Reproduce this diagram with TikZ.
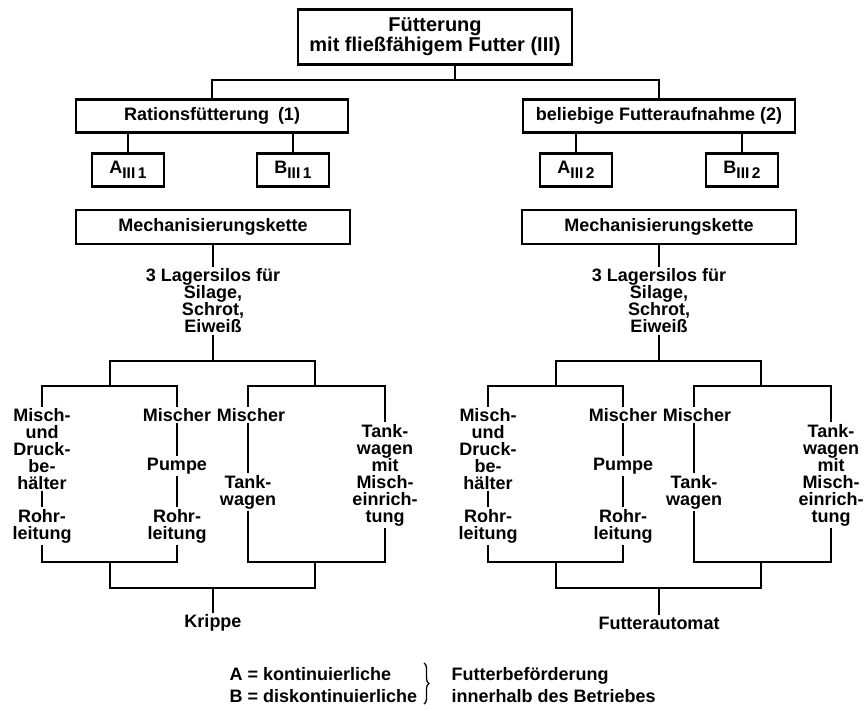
\documentclass[tikz,border=0pt]{standalone}
\usepackage{fontspec}
\setmainfont{Liberation Sans}
\usetikzlibrary{positioning,calc,decorations.pathreplacing}
\newcommand\idx[1]{\raisebox{-0.5ex}{\fontsize{15.5}{15.5}\selectfont #1}}

\begin{document}
\begin{tikzpicture}[
		x=1pt, y=-1pt,
		font=\fontsize{18}{17}\selectfont\bfseries,
		every node/.style={align=center, inner sep=1.5pt},
		box/.style={rectangle, draw, line width=2.5pt, inner sep=2pt},
		bigbox/.style={box, minimum width=272pt, minimum height=33pt},
		subbox/.style={box, minimum width=72pt, minimum height=33pt},
		ln/.style={line width=2.5pt},
		]
		\useasboundingbox (0,0) rectangle (865,710);

		% Kopf
		\node[box, minimum width=274pt, minimum height=55pt,
			font=\fontsize{20}{18}\selectfont\bfseries] (top) at (435,37)
		{Fütterung\\mit fließfähigem Futter (III)};
		\coordinate (j0) at (455,80);
		\node[bigbox] (rat) at (212,116) {Rationsfütterung\enspace(1)};
		\node[bigbox] (bel) at (659,116) {beliebige Futteraufnahme (2)};
		\draw[ln] (j0 |- top.south) -- (j0);
		\draw[ln] (rat.north) |- (j0) -| (bel.north);

		\node[subbox] (a1) at (128,170) {A\idx{III\,1}};
		\node[subbox] (b1) at (293,170) {B\idx{III\,1}};
		\node[subbox] (a2) at (576,170) {A\idx{III\,2}};
		\node[subbox] (b2) at (742,170) {B\idx{III\,2}};
		\draw[ln] (a1.north) -- (a1.north |- rat.south);
		\draw[ln] (b1.north) -- (b1.north |- rat.south);
		\draw[ln] (a2.north) -- (a2.north |- bel.south);
		\draw[ln] (b2.north) -- (b2.north |- bel.south);

		% Mechanisierungsketten
		\foreach \s/\dx/\ende in {L/0/Krippe, R/446/Futterautomat}{
			\begin{scope}[xshift=\dx pt]
				\node[box, minimum width=274pt, minimum height=34pt] (mech\s) at (213,227)
				{Mechanisierungskette};
				\node (lag\s) at (213,301) {3 Lagersilos für\\Silage,\\Schrot,\\Eiweiß};
				\coordinate (m\s) at (213,361);
				\coordinate (p\s) at (110,386);
				\coordinate (q\s) at (315,386);

				\node (dru\s) at (42,449) {Misch-\\und\\Druck-\\be-\\hälter};
				\node (ro1\s) at (42,526) {Rohr-\\leitung};
				\node (mi2\s) at (177,415) {Mischer};
				\node (pu\s)  at (177,466) {Pumpe};
				\node (ro2\s) at (177,526) {Rohr-\\leitung};
				\node (mi3\s) at (251,415) {Mischer};
				\node (tw\s)  at (248,492) {Tank-\\wagen};
				\node (twm\s) at (385,475) {Tank-\\wagen\\mit\\Misch-\\einrich-\\tung};

				\coordinate (u\s) at (110,562);
				\coordinate (v\s) at (315,562);
				\coordinate (w\s) at (213,588);
				\node (end\s) at (213,623) {\ende};

				\draw[ln] (mech\s) -- (lag\s);
				\draw[ln] (lag\s) -- (m\s);
				\draw[ln] (p\s) |- (m\s) -| (q\s);
				\draw[ln] (dru\s.north) |- (p\s) -| (mi2\s.north);
				\draw[ln] (tw\s.north |- mi3\s.north) |- (q\s) -| (twm\s.north);
				\draw[ln] (dru\s) -- (ro1\s);
				\draw[ln] (mi2\s) -- (pu\s);
				\draw[ln] (pu\s) -- (ro2\s);
				\draw[ln] (tw\s.north |- mi3\s.south) -- (tw\s.north);
				\draw[ln] (ro1\s.south) |- (u\s) -| (ro2\s.south);
				\draw[ln] (tw\s.south) |- (v\s) -| (twm\s.south);
				\draw[ln] (u\s) |- (w\s) -| (v\s);
				\draw[ln] (w\s) -- (end\s);
			\end{scope}
		}

		% Legende
		\node[anchor=base west] (legA) at (228,680) {A = kontinuierliche};
		\node[anchor=base west] (legB) at (228,702) {B = diskontinuierliche};
		\coordinate (bt) at (424,663);
		\coordinate (bb) at (424,704);
		\draw[decorate, decoration={brace, amplitude=5pt}, line width=1.3pt] (bt) -- (bb);
		\node[anchor=base west] (legC) at (450,680) {Futterbeförderung};
		\node[anchor=base west] (legD) at (450,702) {innerhalb des Betriebes};

	\end{tikzpicture}
\end{document}
